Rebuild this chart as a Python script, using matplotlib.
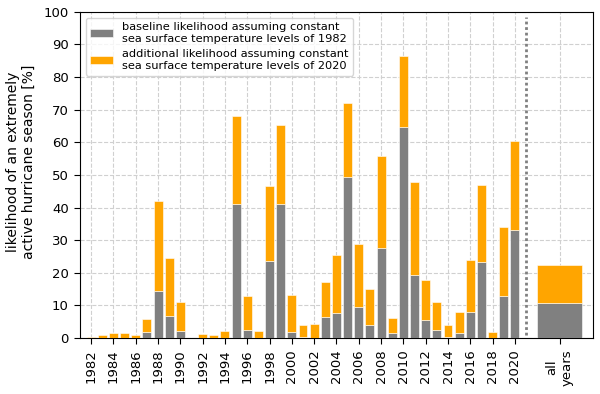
import matplotlib
matplotlib.use('Agg')
import matplotlib.pyplot as plt
import numpy as np

years = list(range(1982, 2021))
# total likelihood assuming 2020 sea surface temperatures [%]
total = [0.2, 0.8, 1.6, 1.5, 0.8, 5.9, 42.1, 24.5, 11.2, 0.0,
         1.3, 0.9, 2.1, 68.0, 12.9, 2.1, 46.6, 65.3, 13.3, 3.9,
         4.4, 17.3, 25.4, 72.0, 28.9, 15.1, 55.8, 6.0, 86.4, 47.9,
         17.7, 11.2, 3.9, 8.0, 23.8, 47.0, 1.9, 34.1, 60.5]
# baseline likelihood assuming 1982 sea surface temperatures [%]
baseline = [0.0, 0.0, 0.1, 0.1, 0.0, 2.0, 14.5, 6.9, 2.2, 0.0,
            0.0, 0.0, 0.0, 41.1, 2.6, 0.0, 23.6, 41.0, 2.0, 0.3,
            0.0, 6.6, 7.6, 49.4, 9.4, 4.1, 27.6, 1.6, 64.8, 19.3,
            5.4, 2.4, 0.3, 1.6, 7.9, 23.2, 0.0, 12.9, 33.2]
all_total = 22.4
all_baseline = 10.6

c_base = 'gray'
c_add = 'orange'

fig = plt.figure(figsize=(6, 3.94), dpi=100)
ax = fig.add_axes([0.1333, 0.142, 0.855, 0.828])

additional = np.array(total) - np.array(baseline)
ax.bar(years, baseline, width=0.8, color=c_base, edgecolor='white', linewidth=0.4,
       label='baseline likelihood assuming constant\nsea surface temperature levels of 1982', zorder=3)
ax.bar(years, additional, bottom=baseline, width=0.8, color=c_add, edgecolor='white', linewidth=0.4,
       label='additional likelihood assuming constant\nsea surface temperature levels of 2020', zorder=3)

# all years
ax.bar(2024, all_baseline, width=4, color=c_base, edgecolor='white', linewidth=0.4, zorder=3)
ax.bar(2024, all_total - all_baseline, bottom=all_baseline, width=4, color=c_add,
       edgecolor='white', linewidth=0.4, zorder=3)

ax.axvline(2021, ymin=0.01, ymax=0.985, ls=(0, (1, 1)), c='gray', lw=2, zorder=4)

ticks = list(range(1982, 2021, 2)) + [2024]
labels = [str(y) for y in range(1982, 2021, 2)] + ['all\nyears']
ax.set_xticks(ticks)
ax.set_xticklabels(labels, rotation=90, fontsize=9.5)
ax.set_yticks(range(0, 101, 10))
ax.tick_params(axis='both', labelsize=9.5, length=4.5)
ax.set_xlim(1981, 2027)
ax.set_ylim(0, 100)
ax.grid(ls='--', c='#d0d0d0', lw=0.8, zorder=0)
ax.set_axisbelow(True)
ax.set_ylabel('likelihood of an extremely\nactive hurricane season [%]', fontsize=10)
ax.yaxis.set_label_coords(-0.086, 0.54)
ax.legend(loc='upper left', fontsize=8.2)

fig.savefig('out.png', dpi=100)
